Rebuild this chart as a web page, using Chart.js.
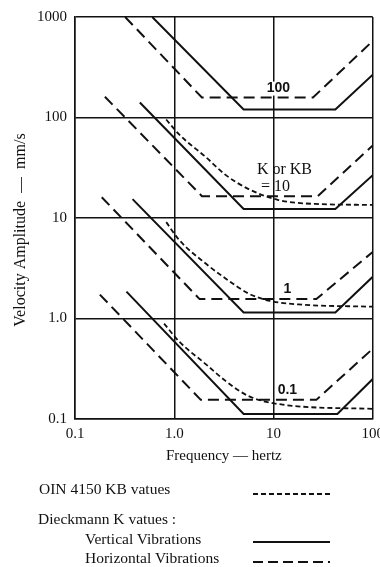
<!DOCTYPE html>
<html><head><meta charset="utf-8">
<script src="https://cdn.jsdelivr.net/npm/chart.js@4/dist/chart.umd.min.js"></script>
<style>
html,body{margin:0;padding:0;background:#fff;overflow:hidden;width:380px;height:567px;position:relative;}
#wrap{position:absolute;left:0;top:0;width:390px;height:567px;}
.t{position:absolute;font-family:"Liberation Serif",serif;color:#111;white-space:nowrap;font-size:15.5px;line-height:15px;}
#leg{position:absolute;left:0;top:0;}
</style></head><body>
<div id="wrap"><canvas id="c" width="390" height="567"></canvas></div>
<div class="t" style="left:39px;top:481px">OIN 4150 KB vatues</div>
<div class="t" style="left:38px;top:511px">Dieckmann K vatues :</div>
<div class="t" style="left:85px;top:531px">Vertical Vibrations</div>
<div class="t" style="left:85px;top:550px">Horizontal Vibrations</div>
<svg id="leg" width="380" height="567">
  <line x1="253" y1="494" x2="330" y2="494" stroke="#111" stroke-width="1.8" stroke-dasharray="5,3"/>
  <line x1="253" y1="542" x2="330" y2="542" stroke="#111" stroke-width="1.8"/>
  <line x1="253" y1="562" x2="330" y2="562" stroke="#111" stroke-width="1.8" stroke-dasharray="10,5"/>
</svg>
<script>
// Axis ticks
const freqTicks = [0.1, 1, 10, 100];
const freqTickLabels = ['0.1', '1.0', '10', '100'];
const velTicks = [0.1, 1, 10, 100, 1000];
const velTickLabels = ['0.1', '1.0', '10', '100', '1000'];

// Dieckmann K values - vertical vibrations (solid)
const vertK100_f = [0.6, 5, 42, 100];   const vertK100_v = [1000, 120, 120, 267];
const vertK10_f  = [0.45, 5, 42, 100];  const vertK10_v  = [141, 12.3, 12.3, 26.7];
const vertK1_f   = [0.38, 5, 42, 100];  const vertK1_v   = [15.4, 1.15, 1.15, 2.6];
const vertK01_f  = [0.33, 5, 44, 100];  const vertK01_v  = [1.85, 0.112, 0.112, 0.25];

// Dieckmann K values - horizontal vibrations (long dash)
const horK100_f = [0.32, 1.9, 25, 100];  const horK100_v = [1000, 158, 158, 578];
const horK10_f  = [0.2, 1.9, 28, 100];   const horK10_v  = [161, 16.5, 16.5, 52.8];
const horK1_f   = [0.186, 1.8, 27, 100]; const horK1_v   = [16.1, 1.56, 1.56, 4.6];
const horK01_f  = [0.178, 1.85, 27, 100];const horK01_v  = [1.73, 0.155, 0.155, 0.5];

// DIN 4150 KB values (short dash)
const dinKB10_f = [0.83, 1.12, 2.09, 3.31, 5.62, 11.2, 26.3, 100];
const dinKB10_v = [95.5, 67.9, 40.2, 26.7, 19.4, 15.1, 13.8, 13.5];
const dinKB1_f  = [0.83, 1.12, 2.09, 3.31, 5.62, 8.9, 17.8, 100];
const dinKB1_v  = [9.1, 6.05, 3.5, 2.49, 1.77, 1.51, 1.38, 1.31];
const dinKB01_f = [0.79, 1.12, 2.09, 3.31, 5.62, 13, 100];
const dinKB01_v = [0.89, 0.59, 0.35, 0.238, 0.169, 0.138, 0.126];

// Curve labels (text, frequency, velocity)
const curveLabelText = ['100', 'K or KB', '= 10', '1', '0.1'];
const curveLabelFreq = [11.2, 12.9, 10.5, 13.8, 13.8];
const curveLabelVel  = [194, 30.5, 20.3, 1.94, 0.194];
const curveLabelSans = [true, false, false, true, true];

const pts = (f, v) => f.map((x, i) => ({x: x, y: v[i]}));
const INK = '#111';
function solid(f, v){ return {data: pts(f, v), borderColor: INK, borderWidth: 2, pointRadius: 0, fill: false, tension: 0}; }
function longDash(f, v){ return {data: pts(f, v), borderColor: INK, borderWidth: 2, borderDash: [11, 6], pointRadius: 0, fill: false, tension: 0}; }
function shortDash(f, v){ return {data: pts(f, v), borderColor: INK, borderWidth: 1.8, borderDash: [5, 3], pointRadius: 0, fill: false, cubicInterpolationMode: 'monotone'}; }

const labelPlugin = {
  id: 'curveLabels',
  afterDatasetsDraw(chart){
    const ctx = chart.ctx, xs = chart.scales.x, ys = chart.scales.y;
    ctx.save();
    ctx.fillStyle = INK; ctx.textAlign = 'center'; ctx.textBaseline = 'middle';
    curveLabelText.forEach((t, i) => {
      ctx.font = curveLabelSans[i] ? 'bold 14px "Liberation Sans"' : '16px "Liberation Serif"';
      const x = xs.getPixelForValue(curveLabelFreq[i]), y = ys.getPixelForValue(curveLabelVel[i]);
      if (curveLabelSans[i]) {
        const w = ctx.measureText(t).width;
        ctx.fillStyle = '#fff'; ctx.fillRect(x - w/2 - 1, y - 7, w + 2, 14); ctx.fillStyle = INK;
      }
      ctx.fillText(t, x, y);
    });
    ctx.restore();
  }
};

new Chart(document.getElementById('c'), {
  type: 'line',
  data: {
    datasets: [
      solid(vertK100_f, vertK100_v), solid(vertK10_f, vertK10_v), solid(vertK1_f, vertK1_v), solid(vertK01_f, vertK01_v),
      longDash(horK100_f, horK100_v), longDash(horK10_f, horK10_v), longDash(horK1_f, horK1_v), longDash(horK01_f, horK01_v),
      shortDash(dinKB10_f, dinKB10_v), shortDash(dinKB1_f, dinKB1_v), shortDash(dinKB01_f, dinKB01_v)
    ]
  },
  options: {
    responsive: false, animation: false,
    layout: {padding: {top: 14, right: 15, bottom: 97, left: 0}},
    plugins: {legend: {display: false}, tooltip: {enabled: false}},
    scales: {
      x: {
        type: 'logarithmic', min: 0.1, max: 100,
        afterBuildTicks: s => { s.ticks = freqTicks.map(v => ({value: v})); },
        afterFit: s => { s.height = 51; },
        ticks: {autoSkip: false, maxRotation: 0, padding: 6, color: INK,
                font: {family: 'Liberation Serif', size: 15},
                callback: (v, i) => freqTickLabels[i]},
        grid: {color: INK, lineWidth: 1.5, drawTicks: false},
        border: {color: INK, width: 1.5},
        title: {display: true, text: 'Frequency — hertz', color: INK,
                font: {family: 'Liberation Serif', size: 15}, padding: {top: 0, bottom: 5}}
      },
      y: {
        type: 'logarithmic', min: 0.1, max: 1000,
        afterBuildTicks: s => { s.ticks = velTicks.map(v => ({value: v})); },
        afterFit: s => { s.width = 75; },
        ticks: {autoSkip: false, padding: 8, color: INK,
                font: {family: 'Liberation Serif', size: 15},
                callback: (v, i) => velTickLabels[i]},
        grid: {color: INK, lineWidth: 1.5, drawTicks: false},
        border: {color: INK, width: 1.5},
        title: {display: true, text: 'Velocity Amplitude  —  mm/s\u00A0\u00A0\u00A0\u00A0\u00A0\u00A0', color: INK,
                font: {family: 'Liberation Serif', size: 16}, padding: {top: 11, bottom: 0}}
      }
    }
  },
  plugins: [labelPlugin]
});
</script>
</body></html>
